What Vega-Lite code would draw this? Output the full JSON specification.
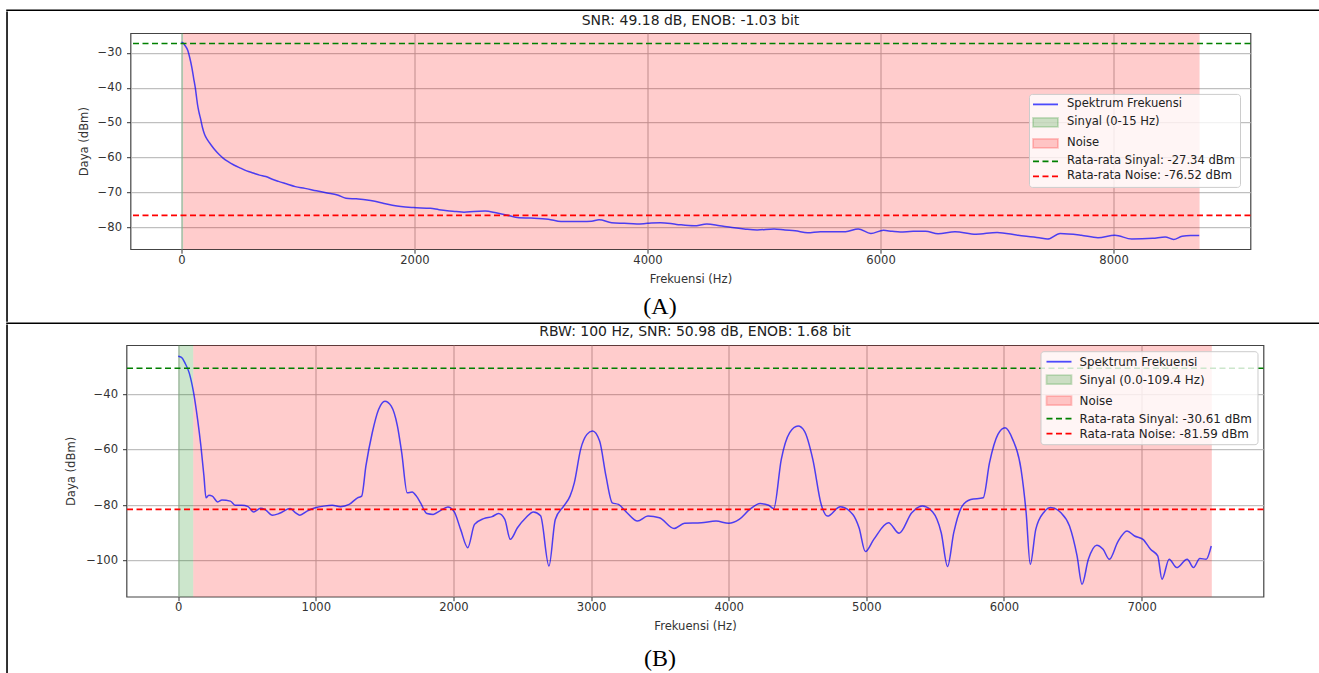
{
  "$schema": "https://vega.github.io/schema/vega-lite/v6.json",
  "background": "white",
  "padding": {"left": 6, "top": 9.2, "right": 0, "bottom": 0},
  "datasets": {
    "specA": [
      {"f": 0, "p": -27.0}, {"f": 11, "p": -27.1}, {"f": 30, "p": -27.9}, {"f": 54, "p": -29.3}, {"f": 72, "p": -31.5},
      {"f": 90, "p": -34.3}, {"f": 105, "p": -37.3}, {"f": 119, "p": -40.0}, {"f": 130, "p": -42.8}, {"f": 138, "p": -44.8},
      {"f": 150, "p": -46.9}, {"f": 163, "p": -48.7}, {"f": 180, "p": -51.3}, {"f": 199, "p": -53.4}, {"f": 225, "p": -55.0},
      {"f": 253, "p": -56.3}, {"f": 290, "p": -57.9}, {"f": 326, "p": -59.2}, {"f": 360, "p": -60.2}, {"f": 398, "p": -61.1},
      {"f": 450, "p": -62.1}, {"f": 507, "p": -63.0}, {"f": 560, "p": -63.8}, {"f": 615, "p": -64.4}, {"f": 670, "p": -65.0},
      {"f": 724, "p": -65.4}, {"f": 780, "p": -66.2}, {"f": 833, "p": -66.8}, {"f": 900, "p": -67.5}, {"f": 977, "p": -68.3},
      {"f": 1060, "p": -68.8}, {"f": 1158, "p": -69.5}, {"f": 1250, "p": -70.1}, {"f": 1339, "p": -70.7}, {"f": 1412, "p": -71.6},
      {"f": 1500, "p": -71.8}, {"f": 1593, "p": -72.1}, {"f": 1660, "p": -72.5}, {"f": 1738, "p": -73.1}, {"f": 1810, "p": -73.6},
      {"f": 1883, "p": -74.0}, {"f": 1991, "p": -74.3}, {"f": 2136, "p": -74.5}, {"f": 2210, "p": -74.9}, {"f": 2281, "p": -75.2},
      {"f": 2360, "p": -75.4}, {"f": 2425, "p": -75.6}, {"f": 2510, "p": -75.4}, {"f": 2606, "p": -75.3}, {"f": 2700, "p": -75.8},
      {"f": 2787, "p": -76.4}, {"f": 2896, "p": -77.2}, {"f": 3000, "p": -77.3}, {"f": 3149, "p": -77.6}, {"f": 3258, "p": -78.3},
      {"f": 3350, "p": -78.3}, {"f": 3439, "p": -78.3}, {"f": 3520, "p": -78.2}, {"f": 3584, "p": -77.8}, {"f": 3692, "p": -78.6},
      {"f": 3800, "p": -78.8}, {"f": 3909, "p": -79.0}, {"f": 4000, "p": -78.8}, {"f": 4112, "p": -78.6}, {"f": 4250, "p": -79.1},
      {"f": 4400, "p": -79.5}, {"f": 4509, "p": -79.0}, {"f": 4620, "p": -79.5}, {"f": 4726, "p": -80.0}, {"f": 4830, "p": -80.4},
      {"f": 4942, "p": -80.7}, {"f": 5086, "p": -80.4}, {"f": 5180, "p": -80.7}, {"f": 5267, "p": -80.9}, {"f": 5375, "p": -81.5},
      {"f": 5484, "p": -81.2}, {"f": 5600, "p": -81.2}, {"f": 5700, "p": -81.2}, {"f": 5808, "p": -80.4}, {"f": 5917, "p": -81.7},
      {"f": 6025, "p": -80.8}, {"f": 6100, "p": -81.1}, {"f": 6169, "p": -81.3}, {"f": 6280, "p": -81.1}, {"f": 6386, "p": -81.1},
      {"f": 6494, "p": -81.8}, {"f": 6639, "p": -81.2}, {"f": 6819, "p": -81.9}, {"f": 7000, "p": -81.4}, {"f": 7180, "p": -82.2},
      {"f": 7361, "p": -82.9}, {"f": 7433, "p": -83.3}, {"f": 7541, "p": -81.7}, {"f": 7722, "p": -82.2}, {"f": 7866, "p": -82.9},
      {"f": 8011, "p": -82.2}, {"f": 8155, "p": -83.3}, {"f": 8335, "p": -83.1}, {"f": 8443, "p": -82.7}, {"f": 8515, "p": -83.4},
      {"f": 8588, "p": -82.5}, {"f": 8660, "p": -82.3}, {"f": 8735, "p": -82.3}
    ],
    "spansA": [
      {"label": "Sinyal (0-15 Hz)", "start": 0, "end": 15},
      {"label": "Noise", "start": 15, "end": 8738}
    ],
    "meansA": [
      {"label": "Rata-rata Sinyal: -27.34 dBm", "v": -27.34},
      {"label": "Rata-rata Noise: -76.52 dBm", "v": -76.52}
    ],
    "specB": [
      {"f": 0, "p": -26.3}, {"f": 24, "p": -26.7}, {"f": 49, "p": -28.7}, {"f": 80, "p": -32.3}, {"f": 110, "p": -38.9},
      {"f": 141, "p": -49.1}, {"f": 165, "p": -58.7}, {"f": 187, "p": -69.5}, {"f": 202, "p": -77.4}, {"f": 223, "p": -76.5},
      {"f": 248, "p": -76.8}, {"f": 287, "p": -78.9}, {"f": 318, "p": -78.2}, {"f": 379, "p": -78.6}, {"f": 416, "p": -80.1},
      {"f": 462, "p": -80.1}, {"f": 508, "p": -80.6}, {"f": 547, "p": -82.5}, {"f": 599, "p": -81.2}, {"f": 630, "p": -81.6},
      {"f": 685, "p": -83.7}, {"f": 737, "p": -83.0}, {"f": 813, "p": -81.3}, {"f": 853, "p": -82.8}, {"f": 884, "p": -83.7},
      {"f": 936, "p": -82.2}, {"f": 997, "p": -81.0}, {"f": 1058, "p": -80.4}, {"f": 1119, "p": -80.1}, {"f": 1180, "p": -80.6},
      {"f": 1242, "p": -79.8}, {"f": 1303, "p": -77.4}, {"f": 1333, "p": -76.8}, {"f": 1364, "p": -65.9}, {"f": 1410, "p": -53.9},
      {"f": 1456, "p": -45.5}, {"f": 1502, "p": -42.5}, {"f": 1548, "p": -44.3}, {"f": 1593, "p": -51.5}, {"f": 1624, "p": -61.1},
      {"f": 1664, "p": -75.6}, {"f": 1700, "p": -75.3}, {"f": 1731, "p": -76.8}, {"f": 1761, "p": -79.2}, {"f": 1807, "p": -83.1},
      {"f": 1853, "p": -83.4}, {"f": 1899, "p": -82.2}, {"f": 1960, "p": -80.7}, {"f": 2006, "p": -82.5}, {"f": 2052, "p": -88.8},
      {"f": 2104, "p": -95.4}, {"f": 2153, "p": -87.0}, {"f": 2220, "p": -84.9}, {"f": 2281, "p": -84.2}, {"f": 2327, "p": -83.1},
      {"f": 2373, "p": -85.2}, {"f": 2413, "p": -92.4}, {"f": 2465, "p": -88.2}, {"f": 2526, "p": -84.6}, {"f": 2581, "p": -82.5},
      {"f": 2633, "p": -83.9}, {"f": 2694, "p": -102.0}, {"f": 2740, "p": -85.2}, {"f": 2801, "p": -80.4}, {"f": 2847, "p": -76.8},
      {"f": 2878, "p": -72.0}, {"f": 2924, "p": -59.9}, {"f": 2970, "p": -54.5}, {"f": 3010, "p": -53.3}, {"f": 3062, "p": -56.9},
      {"f": 3108, "p": -69.5}, {"f": 3154, "p": -79.2}, {"f": 3199, "p": -79.8}, {"f": 3261, "p": -82.8}, {"f": 3337, "p": -85.8},
      {"f": 3413, "p": -84.0}, {"f": 3496, "p": -84.6}, {"f": 3603, "p": -88.5}, {"f": 3679, "p": -86.6}, {"f": 3801, "p": -86.4},
      {"f": 3908, "p": -85.8}, {"f": 4000, "p": -86.6}, {"f": 4076, "p": -85.2}, {"f": 4153, "p": -81.6}, {"f": 4229, "p": -79.5},
      {"f": 4290, "p": -80.1}, {"f": 4327, "p": -81.3}, {"f": 4382, "p": -63.5}, {"f": 4443, "p": -53.9}, {"f": 4504, "p": -51.5},
      {"f": 4550, "p": -53.3}, {"f": 4611, "p": -63.5}, {"f": 4672, "p": -79.8}, {"f": 4718, "p": -84.0}, {"f": 4810, "p": -80.6},
      {"f": 4902, "p": -83.4}, {"f": 4947, "p": -88.2}, {"f": 4993, "p": -96.8}, {"f": 5054, "p": -92.4}, {"f": 5161, "p": -86.4},
      {"f": 5238, "p": -90.2}, {"f": 5330, "p": -82.8}, {"f": 5406, "p": -80.4}, {"f": 5482, "p": -82.5}, {"f": 5544, "p": -90.0},
      {"f": 5590, "p": -102.2}, {"f": 5635, "p": -90.0}, {"f": 5696, "p": -80.4}, {"f": 5758, "p": -78.0}, {"f": 5849, "p": -77.4},
      {"f": 5895, "p": -64.7}, {"f": 5956, "p": -54.5}, {"f": 6008, "p": -52.1}, {"f": 6063, "p": -56.3}, {"f": 6124, "p": -67.1},
      {"f": 6161, "p": -82.8}, {"f": 6191, "p": -101.4}, {"f": 6231, "p": -88.8}, {"f": 6292, "p": -82.5}, {"f": 6338, "p": -80.9},
      {"f": 6414, "p": -82.8}, {"f": 6476, "p": -87.6}, {"f": 6531, "p": -98.4}, {"f": 6567, "p": -108.6}, {"f": 6613, "p": -99.6},
      {"f": 6674, "p": -94.5}, {"f": 6720, "p": -96.0}, {"f": 6766, "p": -99.6}, {"f": 6827, "p": -93.3}, {"f": 6894, "p": -89.4},
      {"f": 6949, "p": -91.2}, {"f": 7010, "p": -92.4}, {"f": 7065, "p": -96.0}, {"f": 7117, "p": -98.4}, {"f": 7148, "p": -106.8},
      {"f": 7200, "p": -99.6}, {"f": 7255, "p": -102.6}, {"f": 7331, "p": -99.6}, {"f": 7377, "p": -102.6}, {"f": 7423, "p": -99.3},
      {"f": 7469, "p": -99.6}, {"f": 7506, "p": -94.8}
    ],
    "spansB": [
      {"label": "Sinyal (0.0-109.4 Hz)", "start": 0, "end": 109.4},
      {"label": "Noise", "start": 109.4, "end": 7510}
    ],
    "meansB": [
      {"label": "Rata-rata Sinyal: -30.61 dBm", "v": -30.61},
      {"label": "Rata-rata Noise: -81.59 dBm", "v": -81.59}
    ],
    "blank": [{"t": ""}],
    "titleA": [{"c": "SNR: 49.18 dB, ENOB: -1.03 bit"}],
    "titleB": [{"c": "RBW: 100 Hz, SNR: 50.98 dB, ENOB: 1.68 bit"}],
    "capA": [{"c": "(A)"}],
    "capB": [{"c": "(B)"}]
  },
  "spacing": 0,
  "resolve": {"scale": {"color": "independent", "x": "independent", "y": "independent"}, "legend": {"color": "independent"}},
  "vconcat": [
    {
      "data": {"name": "blank"}, "mark": {"type": "text", "fontSize": 0}, "encoding": {"text": {"field": "t"}},
      "width": 1313, "height": 0.01, "view": {"stroke": "black", "strokeWidth": 1.6}
    },
    {
      "spacing": 69.5,
      "resolve": {"scale": {"color": "independent", "x": "independent", "y": "independent"}, "legend": {"color": "independent"}},
      "hconcat": [
        {
          "data": {"name": "blank"}, "mark": {"type": "text", "fontSize": 0}, "encoding": {"text": {"field": "t"}},
          "width": 0.01, "height": 308.8, "view": {"stroke": "black", "strokeWidth": 1.6}
        },
        {
          "spacing": 0,
          "resolve": {"scale": {"color": "independent", "x": "independent", "y": "independent"}, "legend": {"color": "independent"}},
          "vconcat": [
            {
              "data": {"name": "titleA"}, "mark": {"type": "text", "font": "DejaVu Sans", "fontSize": 14, "color": "#222", "baseline": "middle"},
              "encoding": {"text": {"field": "c"}},
              "width": 1120, "height": 16.8, "view": {"stroke": null}
            },
            {
              "data": {"name": "blank"}, "mark": {"type": "text", "fontSize": 0}, "encoding": {"text": {"field": "t"}},
              "width": 10, "height": 2.2, "view": {"stroke": null}
            },
            {
              "width": 1120, "height": 216,
              "layer": [
                {
                  "data": {"name": "spansA"},
                  "mark": {"type": "rect"},
                  "encoding": {
                    "x": {"field": "start", "type": "quantitative", "title": "Frekuensi (Hz)",
                          "scale": {"domain": [-437, 9175], "nice": false, "zero": false},
                          "axis": {"values": [0, 2000, 4000, 6000, 8000], "format": "d"}},
                    "x2": {"field": "end"},
                    "color": {"field": "label", "type": "nominal",
                      "scale": {"domain": ["Spektrum Frekuensi", "Sinyal (0-15 Hz)", "Noise", "Rata-rata Sinyal: -27.34 dBm", "Rata-rata Noise: -76.52 dBm"],
                                "range": ["rgba(0,0,255,0.7)", "rgba(0,128,0,0.2)", "rgba(255,0,0,0.2)", "#008000", "#ff0000"]},
                      "legend": {"title": null, "orient": "none", "legendX": 898.5, "legendY": 60.7,
                        "encode": {"symbols": {"update": {
                          "shape": {"signal": "(datum.value == 'Noise' || indexof(datum.value, 'Sinyal (') == 0) ? 'M-2.5,-0.9H2.5V0.9H-2.5Z' : 'M-2.5,0H2.5'"},
                          "strokeDash": {"signal": "indexof(datum.value, 'Rata-rata') == 0 ? [6, 3.5] : [100, 0]"},
                          "strokeWidth": {"value": 1.8},
                          "opacity": {"value": 1}
                        }}}
                      }
                    }
                  }
                },
                {
                  "data": {"name": "specA"},
                  "mark": {"type": "line", "strokeWidth": 1.5, "interpolate": "monotone"},
                  "encoding": {
                    "x": {"field": "f", "type": "quantitative", "title": "Frekuensi (Hz)"},
                    "y": {"field": "p", "type": "quantitative", "title": "Daya (dBm)",
                          "scale": {"domain": [-86.2, -24.4], "nice": false, "zero": false},
                          "axis": {"values": [-80, -70, -60, -50, -40, -30], "titlePadding": 7.5}},
                    "color": {"datum": "Spektrum Frekuensi", "type": "nominal",
                      "legend": {"title": null, "orient": "none", "legendX": 898.5, "legendY": 60.7,
                        "encode": {"symbols": {"update": {
                          "shape": {"signal": "(datum.value == 'Noise' || indexof(datum.value, 'Sinyal (') == 0) ? 'M-2.5,-0.9H2.5V0.9H-2.5Z' : 'M-2.5,0H2.5'"},
                          "strokeDash": {"signal": "indexof(datum.value, 'Rata-rata') == 0 ? [6, 3.5] : [100, 0]"},
                          "strokeWidth": {"value": 1.8},
                          "opacity": {"value": 1}
                        }}}
                      }}
                  }
                },
                {
                  "data": {"name": "meansA"},
                  "mark": {"type": "rule", "strokeWidth": 1.6, "strokeDash": [6, 3.5]},
                  "encoding": {
                    "y": {"field": "v", "type": "quantitative", "title": "Daya (dBm)"},
                    "color": {"field": "label", "type": "nominal",
                      "legend": {"title": null, "orient": "none", "legendX": 898.5, "legendY": 60.7,
                        "encode": {"symbols": {"update": {
                          "shape": {"signal": "(datum.value == 'Noise' || indexof(datum.value, 'Sinyal (') == 0) ? 'M-2.5,-0.9H2.5V0.9H-2.5Z' : 'M-2.5,0H2.5'"},
                          "strokeDash": {"signal": "indexof(datum.value, 'Rata-rata') == 0 ? [6, 3.5] : [100, 0]"},
                          "strokeWidth": {"value": 1.8},
                          "opacity": {"value": 1}
                        }}}
                      }}
                  }
                }
              ]
            },
            {
              "data": {"name": "blank"}, "mark": {"type": "text", "fontSize": 0}, "encoding": {"text": {"field": "t"}},
              "width": 10, "height": 6.8, "view": {"stroke": null}
            },
            {
              "data": {"name": "capA"}, "mark": {"type": "text", "font": "Liberation Serif", "fontSize": 24, "color": "black", "baseline": "middle"},
              "encoding": {"text": {"field": "c"}},
              "width": 1059, "height": 28.1, "view": {"stroke": null}
            }
          ]
        }
      ]
    },
    {
      "data": {"name": "blank"}, "mark": {"type": "text", "fontSize": 0}, "encoding": {"text": {"field": "t"}},
      "width": 1313, "height": 0.01, "view": {"stroke": "black", "strokeWidth": 1.6}
    },
    {
      "spacing": 56.5,
      "resolve": {"scale": {"color": "independent", "x": "independent", "y": "independent"}, "legend": {"color": "independent"}},
      "hconcat": [
        {
          "data": {"name": "blank"}, "mark": {"type": "text", "fontSize": 0}, "encoding": {"text": {"field": "t"}},
          "width": 0.01, "height": 348.1, "view": {"stroke": "black", "strokeWidth": 1.6}
        },
        {
          "spacing": 0,
          "resolve": {"scale": {"color": "independent", "x": "independent", "y": "independent"}, "legend": {"color": "independent"}},
          "vconcat": [
            {
              "data": {"name": "titleB"}, "mark": {"type": "text", "font": "DejaVu Sans", "fontSize": 14, "color": "#222", "baseline": "middle"},
              "encoding": {"text": {"field": "c"}},
              "width": 1137, "height": 13, "view": {"stroke": null}
            },
            {
              "data": {"name": "blank"}, "mark": {"type": "text", "fontSize": 0}, "encoding": {"text": {"field": "t"}},
              "width": 10, "height": 4.4, "view": {"stroke": null}
            },
            {
              "width": 1137, "height": 251.5,
              "layer": [
                {
                  "data": {"name": "spansB"},
                  "mark": {"type": "rect"},
                  "encoding": {
                    "x": {"field": "start", "type": "quantitative", "title": "Frekuensi (Hz)",
                          "scale": {"domain": [-375.5, 7885.5], "nice": false, "zero": false},
                          "axis": {"values": [0, 1000, 2000, 3000, 4000, 5000, 6000, 7000], "format": "d"}},
                    "x2": {"field": "end"},
                    "color": {"field": "label", "type": "nominal",
                      "scale": {"domain": ["Spektrum Frekuensi", "Sinyal (0.0-109.4 Hz)", "Noise", "Rata-rata Sinyal: -30.61 dBm", "Rata-rata Noise: -81.59 dBm"],
                                "range": ["rgba(0,0,255,0.7)", "rgba(0,128,0,0.2)", "rgba(255,0,0,0.2)", "#008000", "#ff0000"]},
                      "legend": {"title": null, "orient": "top-right", "offset": 6, "labelFontSize": 11.9, "symbolOffset": 8, "labelOffset": 14.5,
                        "encode": {"symbols": {"update": {
                          "shape": {"signal": "(datum.value == 'Noise' || indexof(datum.value, 'Sinyal (') == 0) ? 'M-2.5,-0.9H2.5V0.9H-2.5Z' : 'M-2.5,0H2.5'"},
                          "strokeDash": {"signal": "indexof(datum.value, 'Rata-rata') == 0 ? [6, 3.5] : [100, 0]"},
                          "strokeWidth": {"value": 1.8},
                          "opacity": {"value": 1}
                        }}}
                      }
                    }
                  }
                },
                {
                  "data": {"name": "specB"},
                  "mark": {"type": "line", "strokeWidth": 1.5, "interpolate": "monotone"},
                  "encoding": {
                    "x": {"field": "f", "type": "quantitative", "title": "Frekuensi (Hz)"},
                    "y": {"field": "p", "type": "quantitative", "title": "Daya (dBm)",
                          "scale": {"domain": [-113.1, -22.3], "nice": false, "zero": false},
                          "axis": {"values": [-100, -80, -60, -40], "titlePadding": 9}},
                    "color": {"datum": "Spektrum Frekuensi", "type": "nominal",
                      "legend": {"title": null, "orient": "top-right", "offset": 6, "labelFontSize": 11.9, "symbolOffset": 8, "labelOffset": 14.5,
                        "encode": {"symbols": {"update": {
                          "shape": {"signal": "(datum.value == 'Noise' || indexof(datum.value, 'Sinyal (') == 0) ? 'M-2.5,-0.9H2.5V0.9H-2.5Z' : 'M-2.5,0H2.5'"},
                          "strokeDash": {"signal": "indexof(datum.value, 'Rata-rata') == 0 ? [6, 3.5] : [100, 0]"},
                          "strokeWidth": {"value": 1.8},
                          "opacity": {"value": 1}
                        }}}
                      }}
                  }
                },
                {
                  "data": {"name": "meansB"},
                  "mark": {"type": "rule", "strokeWidth": 1.6, "strokeDash": [6, 3.5]},
                  "encoding": {
                    "y": {"field": "v", "type": "quantitative", "title": "Daya (dBm)"},
                    "color": {"field": "label", "type": "nominal",
                      "legend": {"title": null, "orient": "top-right", "offset": 6, "labelFontSize": 11.9, "symbolOffset": 8, "labelOffset": 14.5,
                        "encode": {"symbols": {"update": {
                          "shape": {"signal": "(datum.value == 'Noise' || indexof(datum.value, 'Sinyal (') == 0) ? 'M-2.5,-0.9H2.5V0.9H-2.5Z' : 'M-2.5,0H2.5'"},
                          "strokeDash": {"signal": "indexof(datum.value, 'Rata-rata') == 0 ? [6, 3.5] : [100, 0]"},
                          "strokeWidth": {"value": 1.8},
                          "opacity": {"value": 1}
                        }}}
                      }}
                  }
                }
              ]
            },
            {
              "data": {"name": "blank"}, "mark": {"type": "text", "fontSize": 0}, "encoding": {"text": {"field": "t"}},
              "width": 10, "height": 12, "view": {"stroke": null}
            },
            {
              "data": {"name": "capB"}, "mark": {"type": "text", "font": "Liberation Serif", "fontSize": 24, "color": "black", "baseline": "middle"},
              "encoding": {"text": {"field": "c"}},
              "width": 1067, "height": 28, "view": {"stroke": null}
            }
          ]
        }
      ]
    }
  ],
  "config": {
    "font": "DejaVu Sans",
    "view": {"stroke": "#444", "strokeWidth": 1.2},
    "axis": {"domain": false, "grid": true, "gridColor": "#b0b0b0", "gridWidth": 1, "tickColor": "#333", "tickSize": 4, "tickWidth": 1,
             "labelFont": "DejaVu Sans", "labelFontSize": 11.6, "labelColor": "#333", "labelFlush": false, "labelOverlap": false,
             "titleFont": "DejaVu Sans", "titleFontSize": 11.6, "titleFontWeight": "normal", "titleColor": "#333"},
    "axisX": {"labelPadding": 1, "titlePadding": 7.3},
    "axisY": {"labelPadding": 5},
    "legend": {"labelFont": "DejaVu Sans", "labelFontSize": 11.6, "labelColor": "#222", "padding": 4.5, "rowPadding": 3,
               "symbolSize": 100, "symbolOffset": 6, "labelOffset": 15.5, "labelLimit": 400,
               "fillColor": "rgba(255,255,255,0.8)", "strokeColor": "#cccccc", "cornerRadius": 3}
  }
}
